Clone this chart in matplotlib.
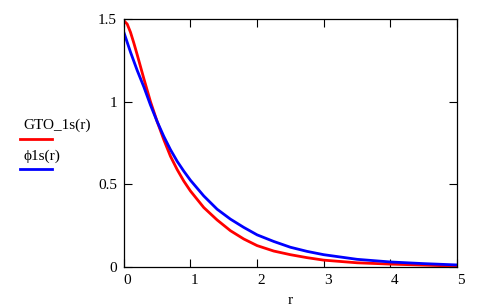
import matplotlib

matplotlib.use("Agg")
import matplotlib.pyplot as plt
from matplotlib.lines import Line2D

# values
r_gto = [0, 0.05, 0.1, 0.15, 0.2, 0.3, 0.4, 0.5, 0.6, 0.7, 0.8, 0.9, 1.0, 1.2, 1.4,
         1.6, 1.8, 2.0, 2.25, 2.5, 2.75, 3.0, 3.5, 4.0, 4.5, 5.0]
gto_1s = [1.49, 1.47, 1.42, 1.355, 1.285, 1.14, 1.00, 0.88, 0.77, 0.67, 0.59, 0.52, 0.46,
          0.36, 0.285, 0.22, 0.17, 0.13, 0.097, 0.075, 0.057, 0.042, 0.026, 0.018, 0.012, 0.006]

r_phi = [0, 0.1, 0.2, 0.3, 0.4, 0.5, 0.6, 0.7, 0.8, 0.9, 1.0, 1.2, 1.4, 1.6, 1.8, 2.0,
         2.25, 2.5, 2.75, 3.0, 3.5, 4.0, 4.5, 5.0]
phi_1s = [1.42, 1.30, 1.19, 1.09, 0.98, 0.88, 0.79, 0.71, 0.64, 0.58, 0.525, 0.43, 0.35,
          0.29, 0.24, 0.195, 0.155, 0.12, 0.095, 0.075, 0.047, 0.031, 0.021, 0.013]

x_ticks = [0, 1, 2, 3, 4, 5]
y_ticks = [0, 0.5, 1, 1.5]
y_labels = ["0", "0.5", "1", "1.5"]

plt.rcParams["font.family"] = ["Liberation Serif", "DejaVu Serif"]
plt.rcParams["font.size"] = 11

fig = plt.figure(figsize=(4.8, 3.07), dpi=100)
ax = fig.add_axes([0.258, 0.130, 0.694, 0.808])

ax.plot(r_gto, gto_1s, color="#FF0000", linewidth=2.0)
ax.plot(r_phi, phi_1s, color="#0000FF", linewidth=2.0)

ax.set_xlim(0, 5)
ax.set_ylim(0, 1.5)
ax.set_xticks(x_ticks)
ax.set_xticklabels([str(t) for t in x_ticks], ha="left")
ax.set_yticks(y_ticks)
ax.set_yticklabels(y_labels)
ax.tick_params(direction="in", length=6, width=0.8, top=True, right=True, pad=5)
for s in ax.spines.values():
    s.set_linewidth(0.9)

ax.set_xlabel("r", labelpad=5)

# legend drawn to the left of the plot, Mathcad style
fig.text(23 / 480, 1 - 125 / 307, "GTO_1s(r)", va="center", ha="left")
fig.add_artist(Line2D([20 / 480, 52 / 480], [1 - 139 / 307] * 2, color="#FF0000", linewidth=2.0))
fig.text(23 / 480, 1 - 156 / 307, "\u03d51s(r)", va="center", ha="left")
fig.add_artist(Line2D([20 / 480, 52 / 480], [1 - 169 / 307] * 2, color="#0000FF", linewidth=2.0))

fig.savefig("out.png", dpi=100, facecolor="white")
